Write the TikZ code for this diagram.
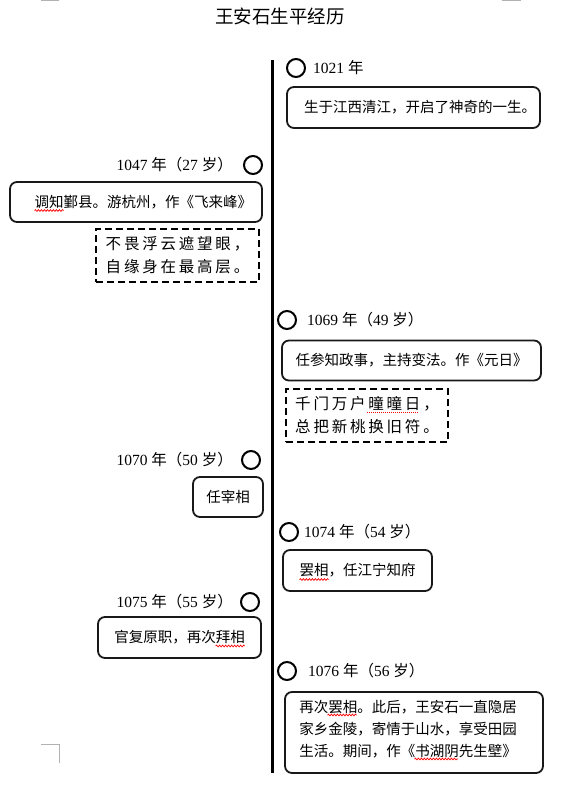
\documentclass[tikz,border=0pt]{standalone}
\usepackage{fontspec}
\setmainfont{Noto Sans CJK SC}
\newfontfamily\dig{Liberation Serif}
\usetikzlibrary{decorations.pathmorphing}
\newcommand\yr[2]{{\dig #1 }年（{\dig #2 }岁）}
\tikzset{
  evbox/.style={draw=black!90, line width=1.8, rounded corners=7, inner sep=0,
    font=\fontsize{14.5}{22}\selectfont},
  evtext/.style={inner sep=0, align=left, font=\fontsize{14.5}{22}\selectfont},
  poembox/.style={draw=black, line width=1.8, dash pattern=on 7pt off 4pt, inner sep=0,
    align=left, font=\fontsize{15.5}{23}\selectfont\addfontfeature{LetterSpace=18}},
  dotmark/.style={circle, draw=black, line width=2, minimum size=18, inner sep=0},
  yearlbl/.style={inner sep=0, font=\fontsize{15.5}{18}\selectfont},
  cornermark/.style={draw=black!30, line width=1},
  spellwave/.style={draw=red, line width=0.7, decorate,
    decoration={snake, amplitude=0.9pt, segment length=3pt}},
  spelldots/.style={draw=red, line width=0.9, dash pattern=on 1pt off 1pt}
}
\begin{document}
\begin{tikzpicture}[x=1pt,y=-1pt]
\useasboundingbox (0,0) rectangle (571,792);
% page corner marks
\coordinate (tl1) at (41,0.5); \coordinate (tl2) at (59,0.5);
\coordinate (tr1) at (502,0.5); \coordinate (tr2) at (521,0.5);
\coordinate (bl1) at (41,744); \coordinate (bl2) at (59,744); \coordinate (bl3) at (59,763);
\draw[cornermark] (tl1) -- (tl2);
\draw[cornermark] (tr1) -- (tr2);
\draw[cornermark] (bl1) -- (bl2) -- (bl3);
% title
\node[inner sep=0, font=\fontsize{18.5}{20}\selectfont] (title) at (280,16.5) {王安石生平经历};
% timeline
\coordinate (ltop) at (272,60);
\coordinate (lbot) at (272,773);
\draw[line width=3] (ltop) -- (lbot);
% 1021
\node[dotmark] (c1) at (296,68) {};
\node[yearlbl, anchor=west] (y1) at (313,68) {{\dig 1021 }年};
\node[evbox, minimum width=253, minimum height=41] (b1) at (413.5,107.5) {};
\node[evtext] (t1) at (420,107.5) {生于江西清江，开启了神奇的一生。};
% 1047
\node[dotmark] (c2) at (253,165) {};
\node[yearlbl, anchor=east] (y2) at (233,165) {\yr{1047}{27}};
\node[evbox, inner xsep=10, text width=232, align=right, minimum height=40] (b2) at (136,202) {调知鄞县。游杭州，作《飞来峰》};
\node[poembox, minimum width=163, minimum height=53] (p1) at (177.5,255.5) {不畏浮云遮望眼，\\自缘身在最高层。};
% 1069
\node[dotmark] (c3) at (287,320) {};
\node[yearlbl, anchor=west] (y3) at (307,320) {\yr{1069}{49}};
\node[evbox, minimum width=259, minimum height=40] (b3) at (411.5,360.5) {任参知政事，主持变法。作《元日》};
\node[poembox, minimum width=162, minimum height=53] (p2) at (367,415.5) {千门万户曈曈日，\\总把新桃换旧符。};
% 1070
\node[dotmark] (c4) at (251,460) {};
\node[yearlbl, anchor=east] (y4) at (233,460) {\yr{1070}{50}};
\node[evbox, minimum width=70, minimum height=40] (b4) at (228,497) {任宰相};
% 1074
\node[dotmark] (c5) at (289,532) {};
\node[yearlbl, anchor=west] (y5) at (304,532) {\yr{1074}{54}};
\node[evbox, minimum width=149, minimum height=41] (b5) at (357.5,570.5) {罢相，任江宁知府};
% 1075
\node[dotmark] (c6) at (250,602) {};
\node[yearlbl, anchor=east] (y6) at (233,602) {\yr{1075}{55}};
\node[evbox, minimum width=163, minimum height=41] (b6) at (179.5,637.5) {官复原职，再次拜相};
% 1076
\node[dotmark] (c7) at (287,671) {};
\node[yearlbl, anchor=west] (y7) at (308,671) {\yr{1076}{56}};
\node[evbox, minimum width=258, minimum height=81] (b7) at (414,732.5) {};
\node[evtext] (t7) at (408,729) {再次罢相。此后，王安石一直隐居\\家乡金陵，寄情于山水，享受田园\\生活。期间，作《书湖阴先生壁》};
% spelling marks
\coordinate (w1a) at (34.5,210.5); \coordinate (w1b) at (63.5,210.5);
\coordinate (w2a) at (299.5,579.5); \coordinate (w2b) at (328.5,579.5);
\coordinate (w3a) at (215.7,646); \coordinate (w3b) at (244.7,646);
\coordinate (w4a) at (327.5,715); \coordinate (w4b) at (356.5,715);
\coordinate (w5a) at (414.5,759); \coordinate (w5b) at (458,759);
\coordinate (d1a) at (367,412.5); \coordinate (d1b) at (419,412.5);
\draw[spellwave] (w1a) -- (w1b);
\draw[spellwave] (w2a) -- (w2b);
\draw[spellwave] (w3a) -- (w3b);
\draw[spellwave] (w4a) -- (w4b);
\draw[spellwave] (w5a) -- (w5b);
\draw[spelldots] (d1a) -- (d1b);
\end{tikzpicture}
\end{document}
